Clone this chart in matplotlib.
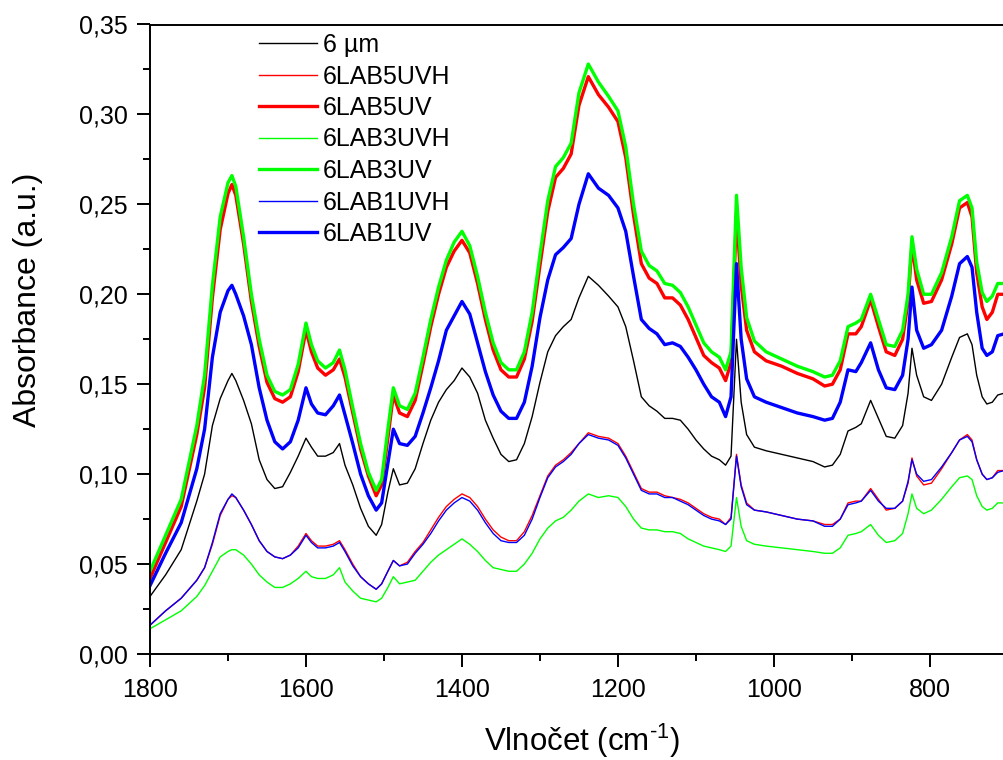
import matplotlib
matplotlib.use("Agg")
import matplotlib.pyplot as plt
from matplotlib.ticker import MultipleLocator, FuncFormatter

plt.rcParams['font.family'] = ['Liberation Sans', 'DejaVu Sans']
plt.rcParams['mathtext.fontset'] = 'custom'
plt.rcParams['mathtext.rm'] = 'Liberation Sans'
plt.rcParams['mathtext.it'] = 'Liberation Sans:italic'
plt.rcParams['mathtext.bf'] = 'Liberation Sans:bold'

# Wavenumbers (cm^-1)
wavenumber = [
    1800, 1780, 1760, 1740, 1730, 1720, 1710, 1700, 1695, 1690,
    1680, 1670, 1660, 1650, 1640, 1630, 1620, 1610, 1600, 1593,
    1585, 1575, 1565, 1557, 1550, 1540, 1530, 1520, 1510, 1503,
    1495, 1488, 1480, 1470, 1460, 1450, 1440, 1430, 1420, 1410,
    1400, 1390, 1380, 1370, 1360, 1350, 1340, 1330, 1320, 1310,
    1300, 1290, 1280, 1270, 1260, 1250, 1238, 1225, 1212, 1200,
    1190, 1180, 1170, 1160, 1150, 1140, 1130, 1120, 1110, 1100,
    1090, 1080, 1070, 1062, 1055, 1048, 1042, 1035, 1025, 1010,
    990, 970, 950, 935, 925, 915, 905, 895, 888, 876,
    866, 856, 845, 835, 828, 823, 817, 808, 798, 785,
    772, 762, 752, 746, 740, 733, 727, 720, 713, 705,
]

abs_6um = [
    .032, .044, .058, .085, .100, .127, .142, .152, .156, .152,
    .141, .128, .108, .097, .092, .093, .101, .110, .120, .115,
    .110, .110, .112, .117, .105, .094, .081, .071, .066, .072,
    .090, .103, .094, .095, .103, .117, .130, .140, .147, .152,
    .159, .154, .145, .130, .120, .111, .107, .108, .117, .132,
    .151, .168, .177, .182, .186, .198, .210, .205, .199, .193,
    .182, .163, .143, .138, .135, .131, .131, .130, .125, .119,
    .114, .110, .108, .105, .110, .175, .140, .122, .115, .113,
    .111, .109, .107, .104, .105, .111, .124, .126, .128, .141,
    .131, .121, .120, .127, .145, .170, .155, .143, .141, .150,
    .165, .176, .178, .172, .155, .143, .139, .140, .144, .145,
]

abs_lab5_uvh = [
    .016, .024, .031, .041, .048, .061, .077, .086, .088, .087,
    .080, .072, .063, .057, .054, .053, .055, .060, .067, .063,
    .060, .060, .061, .063, .058, .050, .043, .039, .036, .039,
    .046, .052, .049, .051, .057, .062, .069, .076, .082, .086,
    .089, .087, .082, .075, .069, .065, .063, .063, .068, .077,
    .088, .099, .105, .108, .112, .117, .123, .121, .120, .117,
    .110, .101, .092, .090, .090, .088, .087, .086, .084, .081,
    .078, .076, .075, .072, .076, .111, .094, .084, .080, .079,
    .077, .075, .074, .072, .072, .075, .084, .085, .085, .092,
    .086, .080, .081, .085, .095, .109, .099, .094, .095, .103,
    .112, .119, .122, .119, .108, .100, .097, .098, .102, .102,
]

abs_lab5_uv = [
    .042, .062, .082, .122, .148, .198, .236, .256, .261, .255,
    .228, .196, .171, .151, .142, .140, .143, .157, .180, .168,
    .159, .155, .158, .164, .154, .134, .114, .099, .088, .094,
    .120, .144, .134, .132, .141, .161, .182, .200, .215, .224,
    .230, .223, .206, .186, .169, .158, .154, .154, .164, .185,
    .216, .246, .265, .270, .278, .305, .321, .311, .304, .296,
    .276, .244, .217, .209, .206, .198, .198, .194, .186, .176,
    .166, .162, .159, .152, .162, .245, .205, .180, .168, .163,
    .160, .156, .153, .149, .150, .158, .178, .178, .182, .197,
    .182, .168, .166, .175, .196, .228, .208, .195, .196, .208,
    .228, .248, .251, .243, .212, .193, .186, .190, .200, .200,
]

abs_lab3_uvh = [
    .014, .019, .024, .032, .038, .046, .054, .057, .058, .058,
    .055, .050, .044, .040, .037, .037, .039, .042, .046, .043,
    .042, .042, .044, .048, .040, .035, .031, .030, .029, .031,
    .037, .043, .039, .040, .041, .046, .051, .055, .058, .061,
    .064, .061, .057, .052, .048, .047, .046, .046, .050, .056,
    .064, .070, .074, .076, .080, .085, .089, .087, .088, .087,
    .082, .075, .070, .069, .069, .068, .068, .067, .064, .062,
    .060, .059, .058, .057, .060, .087, .071, .063, .061, .060,
    .059, .058, .057, .056, .056, .059, .066, .067, .068, .072,
    .066, .062, .063, .067, .078, .089, .081, .078, .080, .086,
    .093, .098, .099, .097, .088, .082, .080, .081, .084, .084,
]

abs_lab3_uv = [
    .046, .066, .086, .127, .155, .205, .243, .262, .266, .260,
    .232, .200, .175, .155, .146, .144, .147, .161, .184, .172,
    .163, .159, .162, .169, .158, .137, .117, .101, .091, .097,
    .125, .148, .138, .136, .145, .165, .186, .204, .219, .229,
    .235, .227, .210, .190, .173, .162, .158, .158, .168, .190,
    .222, .252, .271, .276, .284, .312, .328, .318, .310, .302,
    .282, .250, .224, .216, .213, .206, .205, .201, .193, .183,
    .173, .168, .165, .158, .168, .255, .215, .187, .174, .168,
    .164, .160, .157, .154, .155, .163, .182, .184, .186, .200,
    .186, .172, .171, .180, .200, .232, .214, .200, .200, .212,
    .232, .252, .255, .248, .218, .201, .196, .199, .206, .206,
]

abs_lab1_uvh = [
    .016, .024, .031, .041, .048, .062, .078, .086, .089, .087,
    .080, .072, .063, .057, .054, .053, .055, .059, .066, .062,
    .059, .059, .060, .062, .057, .049, .043, .039, .036, .039,
    .046, .052, .049, .050, .056, .061, .067, .074, .080, .084,
    .087, .085, .080, .073, .067, .063, .062, .062, .066, .075,
    .087, .098, .104, .107, .111, .117, .122, .120, .119, .116,
    .109, .100, .091, .089, .089, .087, .087, .085, .083, .080,
    .077, .075, .074, .072, .075, .110, .093, .083, .080, .079,
    .077, .075, .074, .071, .071, .075, .083, .084, .085, .091,
    .085, .081, .081, .085, .096, .108, .100, .096, .097, .104,
    .112, .119, .121, .118, .108, .100, .097, .098, .101, .102,
]

abs_lab1_uv = [
    .038, .056, .073, .103, .125, .165, .190, .202, .205, .200,
    .188, .172, .148, .130, .118, .114, .118, .130, .148, .139,
    .134, .133, .138, .144, .133, .117, .100, .088, .080, .084,
    .106, .125, .117, .116, .121, .134, .148, .163, .180, .188,
    .196, .189, .173, .157, .144, .135, .131, .131, .140, .160,
    .187, .208, .222, .226, .231, .250, .267, .259, .255, .248,
    .235, .210, .186, .181, .178, .172, .173, .171, .165, .158,
    .150, .143, .140, .132, .143, .217, .175, .153, .143, .140,
    .137, .134, .132, .130, .131, .140, .158, .157, .162, .173,
    .158, .148, .147, .155, .175, .204, .180, .170, .172, .180,
    .199, .217, .221, .215, .190, .170, .166, .168, .177, .178,
]

series_labels = ['6 µm', '6LAB5UVH', '6LAB5UV', '6LAB3UVH', '6LAB3UV',
                 '6LAB1UVH', '6LAB1UV']
series_data = [abs_6um, abs_lab5_uvh, abs_lab5_uv, abs_lab3_uvh, abs_lab3_uv,
               abs_lab1_uvh, abs_lab1_uv]
series_colors = ['#000000', '#ff0000', '#ff0000', '#00ff00', '#00ff00',
                 '#0000ff', '#0000ff']
series_widths = [1.0, 1.0, 2.4, 1.0, 2.4, 1.0, 2.4]

W, H = 1004, 760
fig = plt.figure(figsize=(W / 100, H / 100), dpi=100)
ax_left, ax_right, ax_top, ax_bottom = 150, 1004, 24.5, 654
ax = fig.add_axes([ax_left / W, (H - ax_bottom) / H,
                   (ax_right - ax_left) / W, (ax_bottom - ax_top) / H])

for y, lab, c, lw in zip(series_data, series_labels, series_colors, series_widths):
    ax.plot(wavenumber, y, color=c, lw=lw, label=lab, solid_joinstyle='round')

ax.set_xlim(1800, 705)
ax.set_ylim(0, 0.35)

ax.xaxis.set_major_locator(MultipleLocator(200))
ax.xaxis.set_minor_locator(MultipleLocator(100))
ax.yaxis.set_major_locator(MultipleLocator(0.05))
ax.yaxis.set_minor_locator(MultipleLocator(0.025))
ax.yaxis.set_major_formatter(FuncFormatter(lambda v, p: f"{v:.2f}".replace('.', ',')))
ax.xaxis.set_major_formatter(FuncFormatter(lambda v, p: f"{v:.0f}"))

ax.tick_params(which='major', direction='out', length=9.5, width=1.4,
               labelsize=18, color='black')
ax.tick_params(which='minor', direction='out', length=5, width=1.4)
ax.tick_params(axis='y', which='major', pad=6.5)
ax.tick_params(axis='x', which='major', pad=7.5)
ax.tick_params(top=False, right=False, which='both')

for side in ('left', 'bottom', 'top'):
    ax.spines[side].set_linewidth(1.4)
ax.spines['right'].set_visible(False)

fig.text(28 / W, 1 - 300 / H, 'Absorbance (a.u.)', rotation=90,
         ha='center', va='center', fontsize=23)
fig.text(582 / W, 1 - 741 / H, r'Vlnočet (cm$^{\text{-1}}$)',
         ha='center', va='center', fontsize=22.5)

ax.legend(loc='upper left', bbox_to_anchor=(259 / W, 1 - 33 / H),
          bbox_transform=fig.transFigure, frameon=False, fontsize=18,
          handlelength=2.32, handletextpad=0.24, labelspacing=0.3,
          borderpad=0, borderaxespad=0)

fig.savefig('out.png', dpi=100)
